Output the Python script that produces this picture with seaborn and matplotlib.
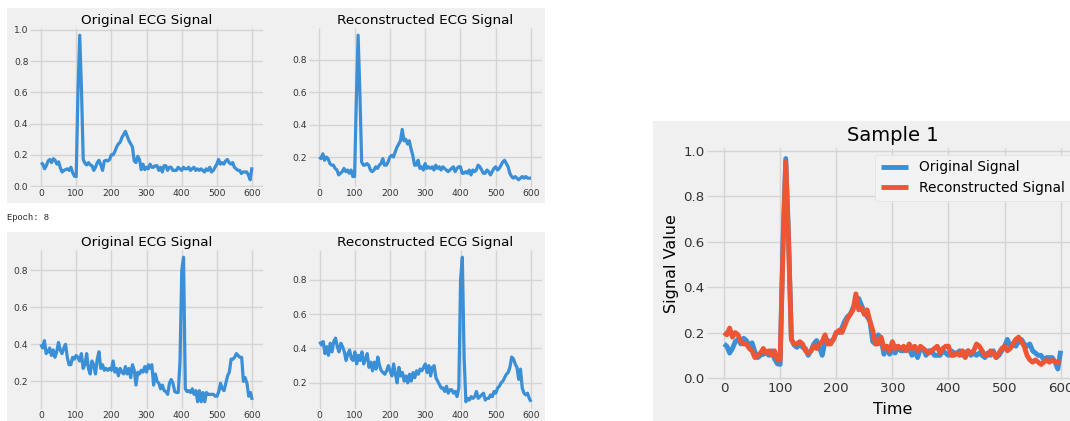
import numpy as np
import pandas as pd
import matplotlib
matplotlib.use("Agg")
import matplotlib.pyplot as plt
from matplotlib.patches import Rectangle
import seaborn as sns

# ---- data -------------------------------------------------------------
time_steps = list(range(0, 601, 5))

sample1_original = [
    0.15, 0.14, 0.11, 0.13, 0.16, 0.17, 0.15, 0.175, 0.165, 0.14,
    0.155, 0.115, 0.09, 0.10, 0.105, 0.11, 0.10, 0.12, 0.085, 0.063,
    0.06, 0.60, 0.965, 0.62, 0.17, 0.145, 0.135, 0.15, 0.135, 0.13,
    0.10, 0.12, 0.15, 0.165, 0.135, 0.10, 0.16, 0.165, 0.16, 0.17,
    0.20, 0.20, 0.22, 0.25, 0.27, 0.28, 0.31, 0.33, 0.35, 0.32,
    0.29, 0.27, 0.25, 0.16, 0.15, 0.19, 0.17, 0.105, 0.14, 0.105,
    0.12, 0.11, 0.14, 0.12, 0.12, 0.13, 0.13, 0.10, 0.12, 0.09,
    0.13, 0.13, 0.10, 0.12, 0.12, 0.10, 0.10, 0.10, 0.12, 0.11,
    0.10, 0.12, 0.11, 0.11, 0.12, 0.10, 0.11, 0.12, 0.10, 0.11,
    0.10, 0.11, 0.10, 0.09, 0.11, 0.10, 0.12, 0.09, 0.10, 0.12,
    0.14, 0.17, 0.14, 0.15, 0.14, 0.16, 0.17, 0.15, 0.14, 0.15,
    0.12, 0.11, 0.10, 0.10, 0.08, 0.09, 0.09, 0.09, 0.07, 0.04,
    0.12,
]

sample1_reconstructed = [
    0.20, 0.19, 0.22, 0.18, 0.20, 0.19, 0.16, 0.15, 0.15, 0.13,
    0.12, 0.09, 0.10, 0.11, 0.13, 0.11, 0.12, 0.10, 0.12, 0.08,
    0.08, 0.55, 0.95, 0.60, 0.17, 0.15, 0.15, 0.16, 0.15, 0.12,
    0.11, 0.12, 0.14, 0.13, 0.15, 0.16, 0.19, 0.15, 0.15, 0.17,
    0.20, 0.21, 0.20, 0.23, 0.26, 0.28, 0.30, 0.37, 0.30, 0.31,
    0.28, 0.30, 0.25, 0.21, 0.15, 0.15, 0.18, 0.13, 0.14, 0.12,
    0.16, 0.13, 0.14, 0.13, 0.14, 0.12, 0.15, 0.13, 0.14, 0.12,
    0.14, 0.13, 0.12, 0.11, 0.12, 0.13, 0.14, 0.11, 0.13, 0.14,
    0.14, 0.10, 0.10, 0.11, 0.10, 0.12, 0.09, 0.12, 0.11, 0.12,
    0.15, 0.14, 0.12, 0.10, 0.10, 0.12, 0.11, 0.09, 0.11, 0.13,
    0.14, 0.12, 0.13, 0.15, 0.17, 0.18, 0.16, 0.14, 0.10, 0.08,
    0.07, 0.08, 0.07, 0.06, 0.07, 0.08, 0.07, 0.08, 0.07, 0.07,
    0.07,
]

sample2_original = [
    0.40, 0.38, 0.42, 0.35, 0.36, 0.38, 0.34, 0.37, 0.33, 0.36,
    0.41, 0.37, 0.35, 0.38, 0.40, 0.33, 0.29, 0.29, 0.33, 0.32,
    0.34, 0.33, 0.31, 0.35, 0.27, 0.29, 0.35, 0.27, 0.24, 0.31,
    0.29, 0.24, 0.32, 0.36, 0.27, 0.29, 0.26, 0.27, 0.26, 0.27,
    0.26, 0.31, 0.25, 0.27, 0.23, 0.27, 0.25, 0.24, 0.28, 0.24,
    0.27, 0.22, 0.29, 0.26, 0.18, 0.25, 0.24, 0.26, 0.25, 0.28,
    0.25, 0.29, 0.27, 0.29, 0.18, 0.24, 0.20, 0.19, 0.16, 0.18,
    0.15, 0.145, 0.13, 0.19, 0.21, 0.19, 0.145, 0.14, 0.14, 0.31,
    0.80, 0.87, 0.16, 0.145, 0.15, 0.14, 0.16, 0.13, 0.15, 0.09,
    0.15, 0.09, 0.14, 0.09, 0.14, 0.13, 0.13, 0.13, 0.13, 0.12,
    0.12, 0.145, 0.19, 0.16, 0.15, 0.19, 0.23, 0.25, 0.32, 0.32,
    0.33, 0.35, 0.34, 0.33, 0.33, 0.20, 0.22, 0.19, 0.12, 0.14,
    0.10,
]

sample2_reconstructed = [
    0.44, 0.42, 0.44, 0.37, 0.41, 0.36, 0.43, 0.38, 0.44, 0.46,
    0.41, 0.38, 0.43, 0.41, 0.38, 0.33, 0.37, 0.39, 0.34, 0.33,
    0.38, 0.31, 0.36, 0.33, 0.38, 0.31, 0.34, 0.37, 0.29, 0.32,
    0.27, 0.32, 0.28, 0.35, 0.30, 0.27, 0.26, 0.25, 0.27, 0.30,
    0.27, 0.24, 0.31, 0.25, 0.20, 0.29, 0.24, 0.26, 0.21, 0.24,
    0.20, 0.25, 0.21, 0.26, 0.23, 0.27, 0.25, 0.28, 0.27, 0.29,
    0.31, 0.26, 0.30, 0.24, 0.29, 0.30, 0.23, 0.21, 0.19, 0.17,
    0.17, 0.15, 0.18, 0.14, 0.16, 0.16, 0.14, 0.15, 0.12, 0.17,
    0.80, 0.93, 0.35, 0.09, 0.11, 0.10, 0.12, 0.11, 0.12, 0.15,
    0.11, 0.12, 0.13, 0.14, 0.10, 0.11, 0.11, 0.13, 0.12, 0.15,
    0.14, 0.17, 0.18, 0.20, 0.21, 0.23, 0.25, 0.26, 0.29, 0.35,
    0.34, 0.31, 0.29, 0.22, 0.28, 0.17, 0.14, 0.13, 0.14, 0.11,
    0.09,
]

# ---- style ------------------------------------------------------------
plt.style.use("fivethirtyeight")
BG = "#f0f0f0"
BLUE = "#3a8fd6"
RED = "#ee5534"
plt.rcParams.update({
    "font.family": ["DejaVu Sans"],
    "axes.facecolor": BG,
    "grid.color": "#d4d4d4",
    "grid.linewidth": 1.0,
    "xtick.major.size": 0,
    "ytick.major.size": 0,
    "xtick.color": "#333333",
    "ytick.color": "#333333",
})

W, H = 1070, 421
fig = plt.figure(figsize=(W / 100, H / 100), dpi=100, facecolor="white")


def panel_bg(x0, y0, x1, y1):
    fig.patches.append(Rectangle((x0 / W, 1 - y1 / H), (x1 - x0) / W, (y1 - y0) / H,
                                 transform=fig.transFigure, facecolor=BG,
                                 edgecolor="none", zorder=-10))


def add_ax(left, top, right, bottom):
    return fig.add_axes([left / W, 1 - bottom / H, (right - left) / W, (bottom - top) / H])


def small_plot(ax, values, title):
    sns.lineplot(x=time_steps, y=values, ax=ax, color=BLUE, linewidth=2.3)
    ax.set_title(title, fontsize=9.7, pad=3)
    ax.set_xticks([0, 100, 200, 300, 400, 500, 600])
    ax.tick_params(axis="both", labelsize=6.6, pad=1.5)
    ax.set_xlabel("")
    ax.set_ylabel("")
    for s in ax.spines.values():
        s.set_visible(False)


# grey backgrounds of the three figure blocks
panel_bg(7, 8, 545, 203)
panel_bg(7, 232, 545, 421)
panel_bg(653, 121, 1070, 421)

# epoch grid of small panels
ax_tl = add_ax(30.5, 28, 262.5, 187)
ax_tr = add_ax(308.7, 28, 541.6, 187)
ax_bl = add_ax(30.3, 250, 262.8, 409)
ax_br = add_ax(309.1, 250, 541.6, 409)

small_plot(ax_tl, sample1_original, "Original ECG Signal")
small_plot(ax_tr, sample1_reconstructed, "Reconstructed ECG Signal")
small_plot(ax_bl, sample2_original, "Original ECG Signal")
small_plot(ax_br, sample2_reconstructed, "Reconstructed ECG Signal")

fig.text(7 / W, 1 - 217 / H, "Epoch: 8", family="Liberation Mono",
         fontsize=6.3, va="center", ha="left", color="#222222")

# comparison plot
ax_r = add_ax(707.2, 148, 1077.5, 379.5)
sns.lineplot(x=time_steps, y=sample1_original, ax=ax_r, color=BLUE,
             linewidth=3.5, label="Original Signal")
sns.lineplot(x=time_steps, y=sample1_reconstructed, ax=ax_r, color=RED,
             linewidth=3.5, label="Reconstructed Signal")
ax_r.set_title("Sample 1", fontsize=14, pad=5)
ax_r.set_xlabel("Time", fontsize=11.5, labelpad=5)
ax_r.set_ylabel("Signal Value", fontsize=11.5, labelpad=3)
ax_r.set_xticks([0, 100, 200, 300, 400, 500, 600])
ax_r.tick_params(axis="both", labelsize=9.6, pad=2)
for s in ax_r.spines.values():
    s.set_visible(False)
ax_r.legend(loc="upper right", fontsize=9.9, frameon=True, facecolor="#f3f3f3",
            edgecolor="#e0e0e0", framealpha=1.0)

fig.savefig("out.png", dpi=100, facecolor="white")
